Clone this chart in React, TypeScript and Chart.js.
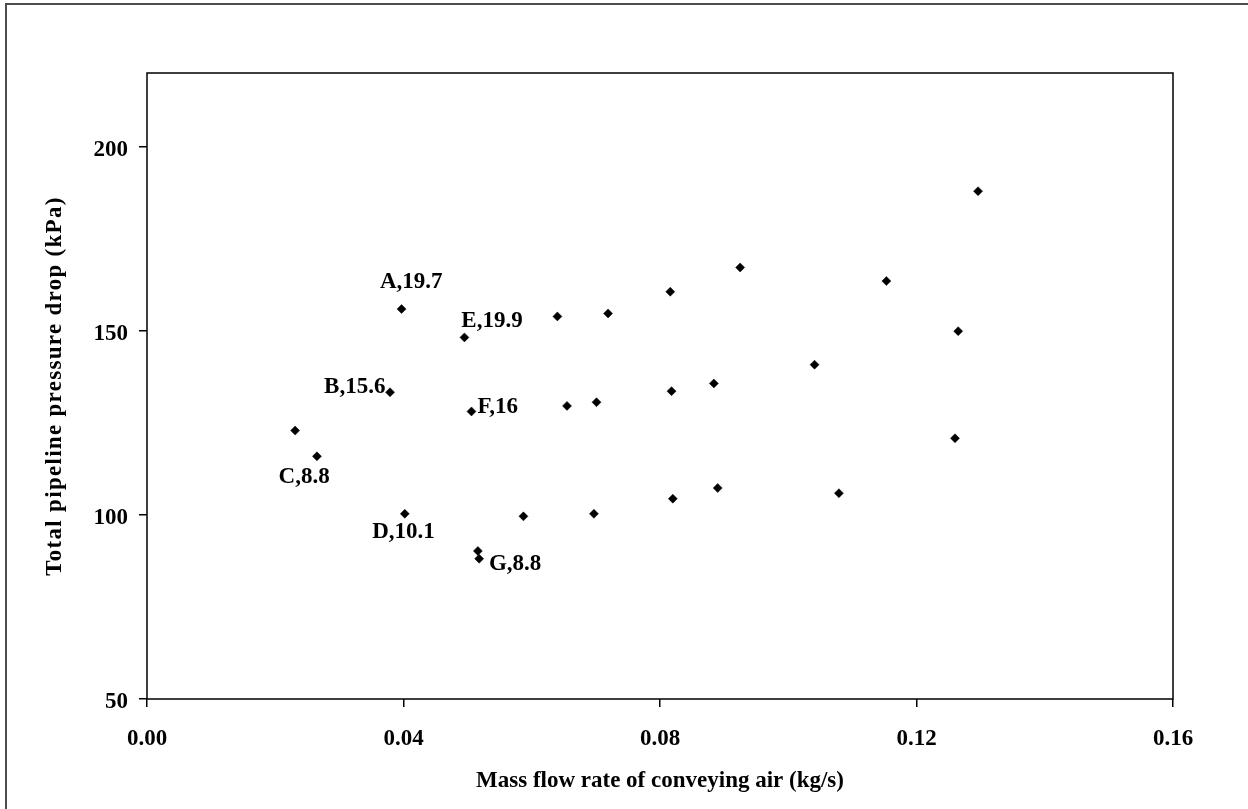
import React, { useEffect, useRef } from "react";
import { Chart, registerables } from "chart.js";

Chart.register(...registerables);

// Mass flow rate of conveying air (kg/s)
const airMassFlow = [
  0.0231, 0.0265, 0.0379, 0.0397, 0.0402, 0.0495, 0.0506, 0.0516, 0.0518,
  0.0587, 0.064, 0.0655, 0.0697, 0.0701, 0.0719, 0.0816, 0.0818, 0.082,
  0.0884, 0.089, 0.0925, 0.1041, 0.1079, 0.1153, 0.126, 0.1265, 0.1296,
];
// Total pipeline pressure drop (kPa)
const pressureDrop = [
  122.9, 115.9, 133.3, 155.9, 100.3, 148.2, 128.1, 90.2, 88.1,
  99.6, 153.9, 129.6, 100.3, 130.6, 154.7, 160.6, 133.6, 104.4,
  135.7, 107.3, 167.2, 140.8, 105.9, 163.5, 120.8, 149.9, 187.9,
];

const xTickValues = [0, 0.04, 0.08, 0.12, 0.16];
const xTickLabels = ["0.00", "0.04", "0.08", "0.12", "0.16"];
const yTickValues = [50, 100, 150, 200];
const yTickLabels = ["50", "100", "150", "200"];

const xTitle = "Mass flow rate of conveying air (kg/s)";
const yTitle = "Total pipeline pressure drop (kPa)";

// Point annotations (text, and their anchor in data units)
const noteTexts = ["A,19.7", "E,19.9", "B,15.6", "F,16", "C,8.8", "D,10.1", "G,8.8"];
const noteX = [0.0412, 0.0538, 0.0324, 0.0547, 0.0245, 0.04, 0.0574];
const noteY = [163.1, 152.7, 134.8, 129.4, 110.4, 95.4, 86.7];

const FONT_FAMILY = "'Liberation Serif', 'Times New Roman', Times, serif";
const FONT_SIZE = 23;
const font = { family: FONT_FAMILY, size: FONT_SIZE, weight: "bold" as const };

const framePlugin = {
  id: "framePlugin",
  beforeDraw(chart: any) {
    const ctx = chart.ctx;
    ctx.save();
    ctx.fillStyle = "#ffffff";
    ctx.fillRect(0, 0, chart.width, chart.height);
    ctx.strokeStyle = "#4d4d4d";
    ctx.lineWidth = 2;
    ctx.strokeRect(6, 4, chart.width + 40, chart.height + 40);
    ctx.restore();
  },
  afterDraw(chart: any) {
    const ctx = chart.ctx;
    const { left, top, right, bottom } = chart.chartArea;
    const xs = chart.scales.x;
    const ys = chart.scales.y;
    ctx.save();
    ctx.strokeStyle = "#000000";
    ctx.lineWidth = 1.5;
    ctx.strokeRect(left, top, right - left, bottom - top);

    ctx.fillStyle = "#000000";
    ctx.font = `bold ${FONT_SIZE}px ${FONT_FAMILY}`;
    ctx.textAlign = "center";
    ctx.textBaseline = "middle";
    noteTexts.forEach((t, i) => {
      ctx.fillText(t, xs.getPixelForValue(noteX[i]), ys.getPixelForValue(noteY[i]));
    });

    // y-axis title (letter-spaced as in the reference)
    ctx.translate(55, (top + bottom) / 2);
    ctx.rotate(-Math.PI / 2);
    try {
      (ctx as any).letterSpacing = "1.3px";
    } catch (e) {}
    ctx.fillText(yTitle, 0, 0);
    ctx.restore();
  },
};

export default function App() {
  const canvasRef = useRef<HTMLCanvasElement | null>(null);

  useEffect(() => {
    if (!canvasRef.current) return;
    const chart = new Chart(canvasRef.current, {
      type: "scatter",
      data: {
        datasets: [
          {
            label: "Pressure drop",
            data: airMassFlow.map((x, i) => ({ x, y: pressureDrop[i] })),
            pointStyle: "rectRot",
            pointRadius: 4.5,
            pointBackgroundColor: "#000000",
            pointBorderColor: "#000000",
            pointBorderWidth: 0.5,
            showLine: false,
          },
        ],
      },
      options: {
        animation: false,
        responsive: true,
        maintainAspectRatio: false,
        events: [],
        layout: { padding: { left: 0, top: 73, right: 75, bottom: 0 } },
        plugins: {
          legend: { display: false },
          tooltip: { enabled: false },
          title: { display: false },
        },
        scales: {
          x: {
            type: "linear",
            position: "bottom",
            min: 0,
            max: 0.16,
            afterBuildTicks: (s: any) => {
              s.ticks = xTickValues.map((v) => ({ value: v }));
            },
            afterFit: (s: any) => {
              s.height = 110;
            },
            border: { display: false },
            grid: {
              display: true,
              drawOnChartArea: false,
              drawTicks: true,
              tickLength: 8,
              color: "#000000",
              lineWidth: 1.5,
            },
            ticks: {
              padding: 18,
              color: "#000000",
              font,
              maxRotation: 0,
              callback: (_v: any, i: number) => xTickLabels[i],
            },
            title: {
              display: true,
              text: xTitle,
              color: "#000000",
              font,
              padding: { top: 0, bottom: 14 },
            },
          },
          y: {
            type: "linear",
            position: "left",
            min: 50,
            max: 220,
            afterBuildTicks: (s: any) => {
              s.ticks = yTickValues.map((v) => ({ value: v }));
            },
            afterFit: (s: any) => {
              s.width = 147;
            },
            border: { display: false },
            grid: {
              display: true,
              drawOnChartArea: false,
              drawTicks: true,
              tickLength: 8,
              color: "#000000",
              lineWidth: 1.5,
            },
            ticks: {
              padding: 11,
              labelOffset: 3,
              color: "#000000",
              font,
              callback: (_v: any, i: number) => yTickLabels[i],
            },
            title: { display: false },
          },
        },
      },
      plugins: [framePlugin],
    });
    return () => chart.destroy();
  }, []);

  return (
    <div
      style={{
        position: "fixed",
        left: 0,
        top: 0,
        width: 1248,
        height: 809,
        background: "#ffffff",
      }}
    >
      <canvas ref={canvasRef} />
    </div>
  );
}
